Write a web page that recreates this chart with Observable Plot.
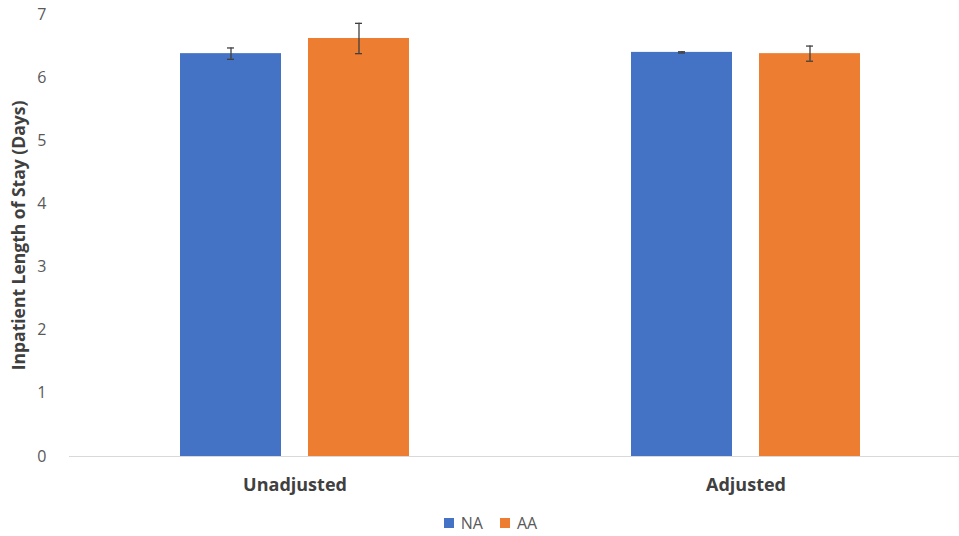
<!DOCTYPE html>
<html>
<head>
<meta charset="utf-8">
<script src="https://cdn.jsdelivr.net/npm/d3@7"></script>
<script src="https://cdn.jsdelivr.net/npm/@observablehq/plot@0.6"></script>
<style>
  html, body { margin: 0; padding: 0; background: #fff; }
  body { width: 959px; height: 536px; overflow: hidden; font-family: "Open Sans", sans-serif; }
  #chart svg { display: block; }
  #legend { display: flex; justify-content: center; align-items: center; gap: 17px; font-size: 16px; color: #595959; margin-top: 12px; padding-left: 22px; }
  .item { display: flex; align-items: center; gap: 7px; }
  .sw { width: 10px; height: 10px; display: inline-block; }
</style>
</head>
<body>
<div id="chart"></div>
<div id="legend"></div>
<script>
const categories = ["Unadjusted", "Adjusted"];
const series = ["NA", "AA"];
const naValues = [6.38, 6.40];
const aaValues = [6.62, 6.38];
const naErrors = [0.09, 0.01];
const aaErrors = [0.24, 0.12];
const colors = ["#4472C4", "#ED7D31"];
const yTicks = [0, 1, 2, 3, 4, 5, 6, 7];

const data = [];
categories.forEach((c, i) => {
  data.push({category: c, series: "NA", value: naValues[i], err: naErrors[i]});
  data.push({category: c, series: "AA", value: aaValues[i], err: aaErrors[i]});
});

const chart = Plot.plot({
  width: 959,
  height: 500,
  marginLeft: 68,
  marginRight: -12,
  marginTop: 14,
  marginBottom: 44,
  style: {fontFamily: "'Open Sans', sans-serif", background: "#fff"},
  fx: {domain: categories, padding: 0, label: null},
  x: {domain: series, paddingInner: 0.209, paddingOuter: 0.8547, axis: null},
  y: {domain: [0, 7], label: null},
  color: {domain: series, range: colors},
  marks: [
    Plot.ruleY([0], {stroke: "#d9d9d9", strokeWidth: 1}),
    Plot.axisY({ticks: yTicks, tickFormat: d3.format("d"), tickSize: 0, tickPadding: 23, fontSize: 16, fill: "#595959",
      label: "Inpatient Length of Stay (Days)", labelAnchor: "center", labelArrow: "none", labelOffset: 57}),
    Plot.barY(data, {fx: "category", x: "series", y: "value", fill: "series"}),
    Plot.ruleX(data, {fx: "category", x: "series", y1: d => d.value - d.err, y2: d => d.value + d.err, stroke: "#404040", strokeWidth: 1.3}),
    Plot.tickY(data, {fx: "category", x: "series", y: d => d.value - d.err, stroke: "#404040", strokeWidth: 1.3, insetLeft: 47, insetRight: 47}),
    Plot.tickY(data, {fx: "category", x: "series", y: d => d.value + d.err, stroke: "#404040", strokeWidth: 1.3, insetLeft: 47, insetRight: 47}),
    Plot.axisFx({anchor: "bottom", tickSize: 0, tickPadding: 22, fontSize: 18, fontWeight: "bold", fill: "#404040", label: null})
  ]
});
document.getElementById("chart").appendChild(chart);
chart.querySelectorAll("[aria-label='y-axis label']").forEach(g => {
  g.setAttribute("font-weight", "bold");
  g.setAttribute("fill", "#404040");
  g.setAttribute("font-size", "17.5");
  g.querySelectorAll("text").forEach(t => { t.setAttribute("font-size", "17.5"); t.setAttribute("font-weight", "bold"); t.setAttribute("fill", "#404040"); });
});

const legend = document.getElementById("legend");
series.forEach((s, i) => {
  const item = document.createElement("span");
  item.className = "item";
  const sw = document.createElement("span");
  sw.className = "sw";
  sw.style.background = colors[i];
  item.appendChild(sw);
  item.appendChild(document.createTextNode(s));
  legend.appendChild(item);
});
</script>
</body>
</html>
